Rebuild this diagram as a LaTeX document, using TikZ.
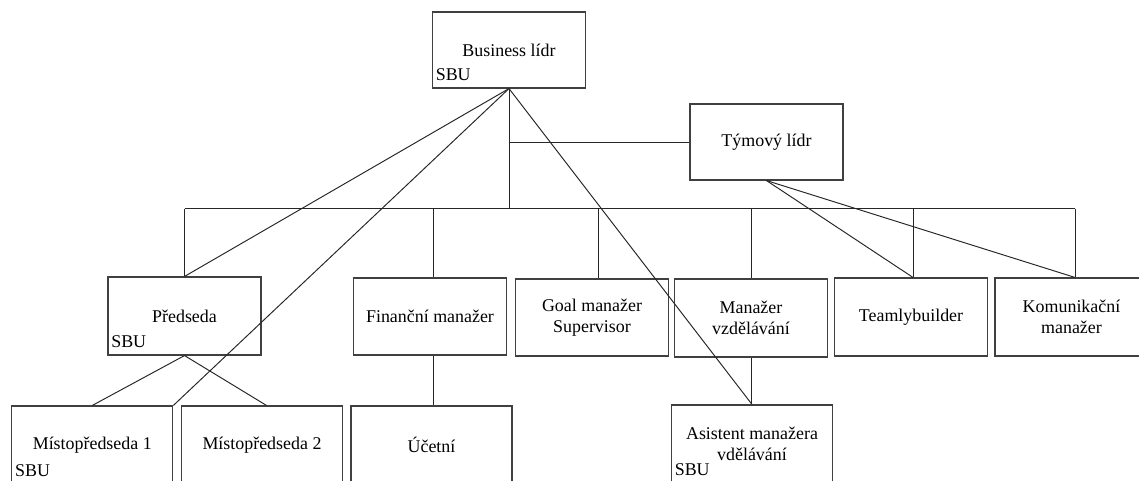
\documentclass[tikz,border=0pt]{standalone}
\usepackage{fontspec}
\setmainfont{Liberation Serif}
\usepackage{xcolor}
\usepackage{tikz}
\definecolor{boxgray}{RGB}{64,64,64}

\tikzset{
  orgbox/.style={draw=boxgray, line width=0.65pt, minimum width=3.06cm,
                 minimum height=1.54cm, inner sep=2pt, align=center,
                 font=\fontsize{10.2}{12}\selectfont},
  lowbox/.style={orgbox, minimum width=3.22cm, minimum height=1.56cm},
  sbutag/.style={anchor=south west, inner xsep=2pt, inner ysep=4.5pt,
                 font=\fontsize{10.2}{12}\selectfont},
  link/.style={draw=black!85, line width=0.55pt}
}

\begin{document}
\begin{tikzpicture}[x=0.02cm, y=-0.02cm]
    \useasboundingbox (0,0) rectangle (1139,480);

    % top level
    \node[orgbox, minimum height=1.52cm] (bl) at (509,50) {Business lídr};
    \node[sbutag] (blsbu) at (bl.south west) {SBU};
    \node[orgbox, minimum height=1.52cm] (tl) at (766.5,142) {Týmový lídr};

    % second row
    \node[orgbox, minimum height=1.56cm] (pred) at (184.5,316) {Předseda};
    \node[sbutag] (predsbu) at (pred.south west) {SBU};
    \node[orgbox] (fin) at (430,316.5) {Finanční manažer};
    \node[orgbox] (goal) at (592,317.5) {Goal manažer\\Supervisor};
    \node[orgbox, minimum height=1.56cm] (mzv) at (751,318) {Manažer\\vzdělávání};
    \node[orgbox, minimum height=1.56cm] (team) at (911,317) {Teamlybuilder};
    \node[orgbox, minimum height=1.56cm] (kom) at (1071.5,317) {Komunikační\\manažer};

    % third row
    \node[lowbox] (mis1) at (92.3,445) {Místopředseda 1};
    \node[sbutag] (mis1sbu) at (mis1.south west) {SBU};
    \node[lowbox] (mis2) at (262,445) {Místopředseda 2};
    \node[lowbox] (uce) at (431.5,445) {Účetní};
    \node[lowbox] (asi) at (752,444) {Asistent manažera\\vdělávání};
    \node[sbutag] (asisbu) at (asi.south west) {SBU};

    % tree lines
    \coordinate (bus) at (0,208.5);
    \draw[link] (bl.south) -- (bl.south |- bus);
    \draw[link] (bl.south |- tl.west) -- (tl.west);
    \draw[link] (pred.north |- bus) -- ([xshift=0.07cm]kom.north |- bus);
    \foreach \n/\dx in {pred/0, fin/0.07, goal/0.12, mzv/0, team/0.04, kom/0.07}
        \draw[link] ([xshift=\dx cm]\n.north |- bus) -- ([xshift=\dx cm]\n.north);

    % cross links
    \draw[link] (bl.south) -- (pred.north);
    \draw[link] (bl.south) -- (mis1.north east);
    \draw[link] (bl.south) -- (asi.north);
    \draw[link] (tl.south) -- ([xshift=0.04cm]team.north);
    \draw[link] (tl.south) -- ([xshift=0.07cm]kom.north);
    \draw[link] (pred.south) -- (mis1.north);
    \draw[link] (pred.south) -- ([xshift=0.09cm]mis2.north);
    \draw[link] ([xshift=0.07cm]fin.south) -- ([xshift=0.07cm]fin.south |- uce.north);
    \draw[link] (mzv.south) -- (mzv.south |- asi.north);
\end{tikzpicture}
\end{document}
